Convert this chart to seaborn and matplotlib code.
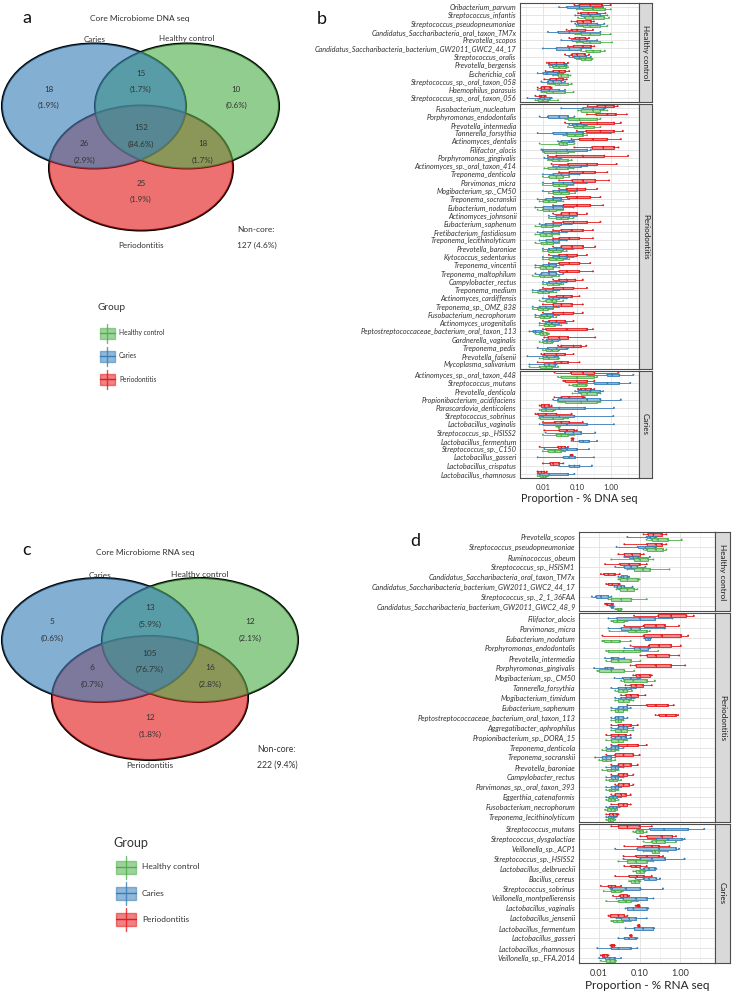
import numpy as np
import pandas as pd
import matplotlib
matplotlib.use("Agg")
import matplotlib.pyplot as plt
import seaborn as sns
from matplotlib.patches import Ellipse, Rectangle
from matplotlib.ticker import NullFormatter

# ---------------- data ----------------
GROUPS = ["Healthy control", "Caries", "Periodontitis"]
HUE_ORDER = ["Periodontitis", "Caries", "Healthy control"]   # top -> bottom inside a row
PAL = {"Healthy control": "#4DAF4A", "Caries": "#377EB8", "Periodontitis": "#E41A1C"}

# Venn counts: C only, C&H, H only, C&P, all, H&P, P only
dna_venn_counts = [18, 15, 10, 26, 152, 18, 25]
dna_venn_pct = ["1.9", "1.7", "0.6", "2.9", "84.6", "1.7", "1.9"]
dna_noncore = "127 (4.6%)"
rna_venn_counts = [5, 13, 12, 6, 105, 16, 12]
rna_venn_pct = ["0.6", "5.9", "2.1", "0.7", "76.7", "2.8", "1.8"]
rna_noncore = "222 (9.4%)"

# DNA taxa by facet (top -> bottom)
dna_taxa_hc = ["Oribacterium_parvum", "Streptococcus_infantis", "Streptococcus_pseudopneumoniae",
               "Candidatus_Saccharibacteria_oral_taxon_TM7x", "Prevotella_scopos",
               "Candidatus_Saccharibacteria_bacterium_GW2011_GWC2_44_17", "Streptococcus_oralis",
               "Prevotella_bergensis", "Escherichia_coli", "Streptococcus_sp._oral_taxon_058",
               "Haemophilus_parasuis", "Streptococcus_sp._oral_taxon_056"]
dna_taxa_per = ["Fusobacterium_nucleatum", "Porphyromonas_endodontalis", "Prevotella_intermedia",
                "Tannerella_forsythia", "Actinomyces_dentalis", "Filifactor_alocis",
                "Porphyromonas_gingivalis", "Actinomyces_sp._oral_taxon_414", "Treponema_denticola",
                "Parvimonas_micra", "Mogibacterium_sp._CM50", "Treponema_socranskii",
                "Eubacterium_nodatum", "Actinomyces_johnsonii", "Eubacterium_saphenum",
                "Fretibacterium_fastidiosum", "Treponema_lecithinolyticum", "Prevotella_baroniae",
                "Kytococcus_sedentarius", "Treponema_vincentii", "Treponema_maltophilum",
                "Campylobacter_rectus", "Treponema_medium", "Actinomyces_cardiffensis",
                "Treponema_sp._OMZ_838", "Fusobacterium_necrophorum", "Actinomyces_urogenitalis",
                "Peptostreptococcaceae_bacterium_oral_taxon_113", "Gardnerella_vaginalis",
                "Treponema_pedis", "Prevotella_falsenii", "Mycoplasma_salivarium"]
dna_taxa_car = ["Actinomyces_sp._oral_taxon_448", "Streptococcus_mutans", "Prevotella_denticola",
                "Propionibacterium_acidifaciens", "Parascardovia_denticolens", "Streptococcus_sobrinus",
                "Lactobacillus_vaginalis", "Streptococcus_sp._HSISS2", "Lactobacillus_fermentum",
                "Streptococcus_sp._C150", "Lactobacillus_gasseri", "Lactobacillus_crispatus",
                "Lactobacillus_rhamnosus"]

# five-number summaries (min, q1, median, q3, max), proportion %, same order as the taxa above
dna_per = [
    (0.085, 0.12, 0.25, 0.55, 1.0), (0.11, 0.13, 0.22, 0.4, 0.7), (0.07, 0.1, 0.15, 0.26, 0.32),
    (0.05, 0.07, 0.1, 0.18, 0.3), (0.06, 0.09, 0.12, 0.18, 0.23), (0.055, 0.08, 0.15, 0.26, 0.33),
    (0.045, 0.07, 0.1, 0.17, 0.23), (0.013, 0.015, 0.025, 0.042, 0.055), (0.012, 0.02, 0.03, 0.045, 0.06),
    (0.011, 0.016, 0.025, 0.04, 0.05), (0.007, 0.009, 0.011, 0.016, 0.018), (0.006, 0.008, 0.009, 0.011, 0.012),
    (0.21, 0.4, 0.7, 1.25, 1.6), (0.2, 0.36, 0.8, 1.4, 3.0), (0.045, 0.13, 0.4, 1.25, 2.0),
    (0.1, 0.19, 0.5, 1.25, 2.3), (0.07, 0.12, 0.3, 0.8, 2.0), (0.085, 0.28, 0.6, 1.25, 1.7),
    (0.014, 0.025, 0.15, 0.65, 3.3), (0.018, 0.055, 0.2, 0.4, 1.5), (0.03, 0.06, 0.15, 0.35, 0.8),
    (0.03, 0.07, 0.15, 0.35, 0.9), (0.03, 0.05, 0.1, 0.18, 0.4), (0.02, 0.05, 0.1, 0.25, 0.5),
    (0.02, 0.04, 0.1, 0.25, 0.6), (0.02, 0.035, 0.06, 0.1, 0.2), (0.02, 0.04, 0.08, 0.2, 0.5),
    (0.02, 0.035, 0.07, 0.15, 0.3), (0.02, 0.03, 0.06, 0.12, 0.3), (0.02, 0.035, 0.07, 0.15, 0.35),
    (0.015, 0.03, 0.05, 0.1, 0.2), (0.015, 0.03, 0.06, 0.12, 0.25), (0.015, 0.03, 0.05, 0.12, 0.3),
    (0.02, 0.03, 0.05, 0.09, 0.15), (0.01, 0.02, 0.04, 0.08, 0.2), (0.015, 0.025, 0.04, 0.07, 0.12),
    (0.01, 0.02, 0.035, 0.07, 0.15), (0.01, 0.02, 0.04, 0.08, 0.15), (0.01, 0.015, 0.025, 0.045, 0.08),
    (0.01, 0.012, 0.05, 0.2, 0.3), (0.011, 0.014, 0.03, 0.055, 0.35), (0.028, 0.035, 0.08, 0.13, 0.19),
    (0.009, 0.011, 0.025, 0.045, 0.08), (0.007, 0.022, 0.035, 0.055, 0.12),
    (0.022, 0.068, 0.15, 0.33, 1.7), (0.04, 0.045, 0.1, 0.2, 0.33), (0.11, 0.13, 0.18, 0.26, 0.33),
    (0.022, 0.035, 0.06, 0.15, 0.17), (0.008, 0.009, 0.011, 0.015, 0.018), (0.006, 0.007, 0.012, 0.025, 0.07),
    (0.01, 0.022, 0.035, 0.06, 0.15), (0.011, 0.03, 0.05, 0.085, 0.1), (0.07, 0.072, 0.075, 0.078, 0.08),
    (0.008, 0.028, 0.035, 0.045, 0.055), (0.065, 0.068, 0.07, 0.072, 0.075), (0.01, 0.016, 0.02, 0.03, 0.04),
    (0.007, 0.007, 0.009, 0.011, 0.013)]
dna_car = [
    (0.03, 0.05, 0.12, 0.3, 0.6), (0.09, 0.13, 0.25, 0.5, 0.8), (0.09, 0.11, 0.2, 0.4, 0.65),
    (0.014, 0.028, 0.06, 0.13, 0.5), (0.035, 0.07, 0.12, 0.2, 0.4), (0.01, 0.025, 0.06, 0.13, 0.26),
    (0.06, 0.085, 0.12, 0.19, 0.26), (0.015, 0.018, 0.025, 0.044, 0.05), (0.007, 0.01, 0.013, 0.028, 0.04),
    (0.009, 0.014, 0.02, 0.035, 0.045), (0.007, 0.009, 0.015, 0.03, 0.045), (0.0035, 0.008, 0.011, 0.016, 0.018),
    (0.035, 0.15, 0.3, 0.62, 0.7), (0.008, 0.014, 0.03, 0.055, 0.085), (0.06, 0.075, 0.1, 0.16, 0.2),
    (0.007, 0.02, 0.05, 0.15, 1.0), (0.028, 0.035, 0.06, 0.075, 0.085), (0.009, 0.01, 0.05, 0.2, 0.26),
    (0.011, 0.014, 0.02, 0.028, 0.035), (0.02, 0.03, 0.06, 0.13, 0.2), (0.01, 0.02, 0.035, 0.06, 0.12),
    (0.01, 0.02, 0.04, 0.08, 0.2), (0.01, 0.02, 0.03, 0.05, 0.1), (0.007, 0.012, 0.02, 0.035, 0.06),
    (0.006, 0.01, 0.02, 0.04, 0.08), (0.015, 0.025, 0.04, 0.06, 0.1), (0.008, 0.012, 0.02, 0.035, 0.07),
    (0.007, 0.01, 0.018, 0.03, 0.05), (0.008, 0.012, 0.02, 0.03, 0.05), (0.01, 0.015, 0.025, 0.04, 0.08),
    (0.01, 0.02, 0.03, 0.05, 0.08), (0.006, 0.01, 0.015, 0.025, 0.04), (0.006, 0.009, 0.015, 0.025, 0.04),
    (0.01, 0.015, 0.025, 0.035, 0.05), (0.005, 0.008, 0.012, 0.02, 0.03), (0.01, 0.015, 0.02, 0.03, 0.05),
    (0.005, 0.008, 0.012, 0.02, 0.03), (0.006, 0.009, 0.013, 0.02, 0.03), (0.008, 0.012, 0.018, 0.03, 0.05),
    (0.004, 0.005, 0.006, 0.009, 0.01), (0.01, 0.013, 0.018, 0.028, 0.032), (0.007, 0.014, 0.025, 0.05, 0.055),
    (0.0035, 0.01, 0.013, 0.022, 0.028), (0.004, 0.011, 0.015, 0.022, 0.025),
    (0.2, 0.8, 1.1, 1.8, 4.7), (0.11, 0.33, 0.8, 1.8, 3.8), (0.09, 0.11, 0.25, 0.5, 0.6),
    (0.02, 0.028, 0.2, 0.5, 2.0), (0.01, 0.012, 0.03, 0.17, 1.25), (0.008, 0.01, 0.03, 0.085, 1.2),
    (0.008, 0.01, 0.05, 0.2, 1.25), (0.012, 0.045, 0.08, 0.13, 0.35), (0.07, 0.12, 0.15, 0.23, 0.4),
    (0.011, 0.035, 0.05, 0.1, 0.23), (0.007, 0.04, 0.06, 0.09, 0.32), (0.03, 0.06, 0.085, 0.12, 0.28),
    (0.007, 0.008, 0.015, 0.055, 0.085)]
dna_hc = [
    (0.1, 0.15, 0.3, 0.7, 1.0), (0.11, 0.17, 0.3, 0.65, 0.9), (0.1, 0.15, 0.25, 0.5, 0.8),
    (0.09, 0.13, 0.25, 0.5, 1.0), (0.1, 0.15, 0.25, 0.5, 1.1), (0.13, 0.19, 0.3, 0.5, 0.67),
    (0.1, 0.13, 0.17, 0.27, 0.29), (0.016, 0.02, 0.03, 0.049, 0.055), (0.02, 0.028, 0.035, 0.055, 0.065),
    (0.014, 0.022, 0.03, 0.055, 0.07), (0.009, 0.012, 0.02, 0.045, 0.08), (0.006, 0.007, 0.01, 0.014, 0.028),
    (0.11, 0.13, 0.3, 0.5, 0.8), (0.045, 0.055, 0.12, 0.4, 0.5), (0.055, 0.085, 0.15, 0.33, 0.5),
    (0.04, 0.05, 0.09, 0.15, 0.2), (0.008, 0.03, 0.04, 0.05, 0.085), (0.01, 0.011, 0.025, 0.055, 0.085),
    (0.014, 0.018, 0.03, 0.055, 0.07), (0.011, 0.014, 0.025, 0.055, 0.08), (0.01, 0.015, 0.025, 0.04, 0.06),
    (0.01, 0.02, 0.03, 0.05, 0.08), (0.015, 0.02, 0.035, 0.06, 0.09), (0.008, 0.01, 0.015, 0.025, 0.04),
    (0.007, 0.01, 0.015, 0.025, 0.04), (0.015, 0.025, 0.035, 0.055, 0.08), (0.006, 0.009, 0.012, 0.02, 0.03),
    (0.006, 0.008, 0.012, 0.018, 0.03), (0.006, 0.009, 0.013, 0.02, 0.03), (0.01, 0.014, 0.02, 0.035, 0.05),
    (0.01, 0.015, 0.025, 0.04, 0.06), (0.006, 0.008, 0.012, 0.02, 0.03), (0.005, 0.008, 0.011, 0.018, 0.03),
    (0.01, 0.013, 0.02, 0.03, 0.04), (0.005, 0.007, 0.01, 0.015, 0.025), (0.008, 0.012, 0.018, 0.025, 0.04),
    (0.005, 0.007, 0.01, 0.014, 0.02), (0.006, 0.008, 0.011, 0.016, 0.025), (0.008, 0.011, 0.015, 0.022, 0.035),
    (0.006, 0.008, 0.01, 0.013, 0.015), (0.008, 0.01, 0.013, 0.018, 0.02), (0.01, 0.012, 0.018, 0.028, 0.03),
    (0.008, 0.01, 0.015, 0.028, 0.03), (0.004, 0.008, 0.012, 0.018, 0.028),
    (0.028, 0.035, 0.1, 0.33, 0.4), (0.06, 0.075, 0.1, 0.19, 0.2), (0.075, 0.13, 0.2, 0.4, 0.5),
    (0.028, 0.045, 0.13, 0.4, 0.5), (0.008, 0.009, 0.012, 0.02, 0.022), (0.008, 0.008, 0.02, 0.04, 0.055),
    (0.025, 0.027, 0.028, 0.03, 0.032), (0.01, 0.025, 0.035, 0.055, 0.085), None,
    (0.01, 0.014, 0.022, 0.035, 0.045), None, None,
    (0.007, 0.008, 0.01, 0.012, 0.014)]

# RNA taxa by facet
rna_taxa_hc = ["Prevotella_scopos", "Streptococcus_pseudopneumoniae", "Ruminococcus_obeum",
               "Streptococcus_sp._HSISM1", "Candidatus_Saccharibacteria_oral_taxon_TM7x",
               "Candidatus_Saccharibacteria_bacterium_GW2011_GWC2_44_17", "Streptococcus_sp._2_1_36FAA",
               "Candidatus_Saccharibacteria_bacterium_GW2011_GWC2_48_9"]
rna_taxa_per = ["Filifactor_alocis", "Parvimonas_micra", "Eubacterium_nodatum",
                "Porphyromonas_endodontalis", "Prevotella_intermedia", "Porphyromonas_gingivalis",
                "Mogibacterium_sp._CM50", "Tannerella_forsythia", "Mogibacterium_timidum",
                "Eubacterium_saphenum", "Peptostreptococcaceae_bacterium_oral_taxon_113",
                "Aggregatibacter_aphrophilus", "Propionibacterium_sp._DORA_15", "Treponema_denticola",
                "Treponema_socranskii", "Prevotella_baroniae", "Campylobacter_rectus",
                "Parvimonas_sp._oral_taxon_393", "Eggerthia_catenaformis", "Fusobacterium_necrophorum",
                "Treponema_lecithinolyticum"]
rna_taxa_car = ["Streptococcus_mutans", "Streptococcus_dysgalactiae", "Veillonella_sp._ACP1",
                "Streptococcus_sp._HSISS2", "Lactobacillus_delbrueckii", "Bacillus_cereus",
                "Streptococcus_sobrinus", "Veillonella_montpellierensis", "Lactobacillus_vaginalis",
                "Lactobacillus_jensenii", "Lactobacillus_fermentum", "Lactobacillus_gasseri",
                "Lactobacillus_rhamnosus", "Veillonella_sp._FFA.2014"]

rna_per = [
    (0.126, 0.16, 0.22, 0.35, 0.46), (0.042, 0.15, 0.25, 0.35, 0.46), (0.03, 0.042, 0.065, 0.105, 0.126),
    (0.014, 0.032, 0.055, 0.1, 0.15), (0.011, 0.013, 0.017, 0.024, 0.032), (0.015, 0.017, 0.021, 0.03, 0.032),
    None, (0.014, 0.015, 0.016, 0.02, 0.022),
    (0.073, 0.29, 0.6, 1.45, 2.2), (0.042, 0.126, 0.25, 0.42, 0.95), (0.012, 0.126, 0.35, 1.05, 1.6),
    (0.06, 0.17, 0.3, 0.6, 1.05), (0.105, 0.15, 0.25, 0.55, 0.95), (0.06, 0.08, 0.25, 0.6, 1.35),
    (0.07, 0.08, 0.1, 0.18, 0.2), (0.045, 0.06, 0.08, 0.12, 0.2), (0.035, 0.045, 0.06, 0.09, 0.14),
    (0.05, 0.15, 0.25, 0.5, 0.7), (0.25, 0.3, 0.45, 0.8, 0.9), (0.02, 0.03, 0.04, 0.06, 0.09),
    (0.015, 0.02, 0.03, 0.045, 0.06), (0.02, 0.03, 0.05, 0.09, 0.15), (0.015, 0.025, 0.04, 0.07, 0.1),
    (0.02, 0.03, 0.04, 0.06, 0.09), (0.02, 0.03, 0.04, 0.05, 0.07), (0.025, 0.03, 0.04, 0.055, 0.07),
    (0.02, 0.025, 0.035, 0.045, 0.06), (0.02, 0.03, 0.04, 0.05, 0.06), (0.015, 0.018, 0.022, 0.027, 0.03),
    (0.02, 0.03, 0.05, 0.1, 0.2), (0.105, 0.15, 0.35, 0.65, 0.8), (0.042, 0.126, 0.2, 0.3, 0.55),
    (0.04, 0.08, 0.15, 0.3, 0.38), (0.042, 0.06, 0.08, 0.105, 0.15), (0.025, 0.055, 0.085, 0.126, 0.2),
    (0.011, 0.017, 0.02, 0.025, 0.035), (0.022, 0.032, 0.04, 0.05, 0.055), (0.08, 0.085, 0.09, 0.095, 0.1),
    (0.017, 0.019, 0.03, 0.042, 0.05), (0.09, 0.093, 0.095, 0.098, 0.1), (0.058, 0.06, 0.06, 0.062, 0.064),
    (0.019, 0.02, 0.021, 0.023, 0.024), (0.011, 0.012, 0.013, 0.016, 0.017)]
rna_car = [
    (0.05, 0.15, 0.18, 0.24, 0.26), (0.027, 0.09, 0.14, 0.24, 0.26), (0.042, 0.056, 0.07, 0.09, 0.18),
    (0.025, 0.042, 0.06, 0.088, 0.14), (0.03, 0.035, 0.04, 0.05, 0.055), (0.024, 0.028, 0.035, 0.042, 0.067),
    (0.0066, 0.0082, 0.011, 0.017, 0.02), (0.019, 0.02, 0.021, 0.022, 0.023),
    (0.017, 0.027, 0.1, 0.24, 0.65), (0.017, 0.035, 0.06, 0.1, 0.42), (0.13, 0.14, 0.16, 0.18, 0.19),
    (0.042, 0.074, 0.1, 0.165, 0.18), (0.014, 0.02, 0.022, 0.03, 0.042), (0.0075, 0.014, 0.016, 0.02, 0.022),
    (0.024, 0.038, 0.06, 0.09, 0.105), (0.02, 0.03, 0.045, 0.06, 0.08), (0.025, 0.035, 0.045, 0.06, 0.075),
    (0.02, 0.03, 0.04, 0.05, 0.06), (0.02, 0.025, 0.03, 0.04, 0.05), (0.02, 0.03, 0.04, 0.05, 0.07),
    (0.02, 0.025, 0.035, 0.045, 0.06), (0.015, 0.02, 0.025, 0.03, 0.04), (0.008, 0.012, 0.015, 0.02, 0.025),
    (0.015, 0.02, 0.025, 0.03, 0.04), (0.015, 0.02, 0.025, 0.03, 0.04), (0.015, 0.02, 0.025, 0.03, 0.035),
    (0.015, 0.018, 0.022, 0.028, 0.035), (0.015, 0.018, 0.022, 0.027, 0.032), (0.015, 0.017, 0.02, 0.023, 0.026),
    (0.087, 0.18, 0.4, 1.6, 4.0), (0.088, 0.26, 0.5, 1.1, 1.3), (0.025, 0.088, 0.3, 0.8, 0.95),
    (0.04, 0.105, 0.2, 0.42, 1.3), (0.105, 0.126, 0.17, 0.24, 0.26), (0.08, 0.126, 0.17, 0.26, 0.32),
    (0.019, 0.021, 0.045, 0.105, 0.38), (0.027, 0.038, 0.08, 0.15, 0.22), (0.045, 0.05, 0.07, 0.15, 0.165),
    (0.027, 0.035, 0.055, 0.08, 0.15), (0.045, 0.074, 0.12, 0.22, 0.23), (0.03, 0.042, 0.055, 0.08, 0.088),
    (0.009, 0.02, 0.03, 0.06, 0.088), (0.01, 0.014, 0.018, 0.024, 0.035)]
rna_hc = [
    (0.15, 0.2, 0.28, 0.5, 1.1), (0.126, 0.15, 0.25, 0.38, 0.46), (0.02, 0.074, 0.1, 0.165, 0.22),
    (0.05, 0.074, 0.12, 0.18, 0.55), (0.03, 0.032, 0.05, 0.09, 0.1), (0.027, 0.032, 0.05, 0.074, 0.088),
    (0.017, 0.02, 0.035, 0.063, 0.15), (0.025, 0.027, 0.03, 0.035, 0.036),
    (0.02, 0.022, 0.028, 0.042, 0.05), (0.018, 0.052, 0.08, 0.15, 0.18), (0.012, 0.013, 0.02, 0.032, 0.06),
    (0.015, 0.017, 0.04, 0.105, 0.29), (0.015, 0.02, 0.03, 0.06, 0.105), (0.009, 0.01, 0.02, 0.042, 0.074),
    (0.035, 0.042, 0.07, 0.15, 0.24), (0.025, 0.03, 0.04, 0.05, 0.065), (0.025, 0.03, 0.04, 0.055, 0.07),
    (0.02, 0.025, 0.03, 0.04, 0.05), (0.02, 0.025, 0.03, 0.035, 0.04), (0.02, 0.025, 0.035, 0.05, 0.07),
    (0.015, 0.02, 0.03, 0.04, 0.05), (0.012, 0.015, 0.02, 0.025, 0.03), (0.01, 0.012, 0.015, 0.02, 0.025),
    (0.012, 0.016, 0.02, 0.025, 0.03), (0.015, 0.018, 0.022, 0.028, 0.035), (0.015, 0.018, 0.02, 0.025, 0.03),
    (0.015, 0.017, 0.02, 0.024, 0.03), (0.014, 0.016, 0.02, 0.024, 0.028), (0.015, 0.017, 0.019, 0.022, 0.025),
    (0.07, 0.08, 0.1, 0.12, 0.15), (0.126, 0.2, 0.26, 0.42, 0.8), (0.126, 0.2, 0.24, 0.3, 0.5),
    (0.03, 0.05, 0.08, 0.15, 0.22), (0.07, 0.08, 0.1, 0.126, 0.14), (0.055, 0.06, 0.075, 0.095, 0.105),
    (0.013, 0.02, 0.024, 0.035, 0.038), (0.015, 0.03, 0.045, 0.063, 0.09), None,
    (0.02, 0.022, 0.028, 0.038, 0.06), None, None,
    None, (0.011, 0.015, 0.019, 0.024, 0.026)]

# ---------------- style ----------------
sns.set_theme(style="white")
plt.rcParams["font.family"] = ["Lato", "DejaVu Sans"]
TXT = "#333333"
W, H = 734, 999


def rect(x0, y0, x1, y1):
    return [x0 / W, 1 - y1 / H, (x1 - x0) / W, (y1 - y0) / H]


def to_long(taxa, per, car, hc):
    rows = []
    for g, boxes in (("Periodontitis", per), ("Caries", car), ("Healthy control", hc)):
        for t, b in zip(taxa, boxes):
            if b is None:
                continue
            for v in b:
                rows.append((t, g, v))
    return pd.DataFrame(rows, columns=["taxon", "group", "value"])


def box_panel(fig, facets, df, x0, x1, y0, y1, strip_w, xlim, lab_fs, tick_fs, xlabel, xlab_fs):
    gap = 2
    n_all = sum(len(t) for _, t in facets)
    row_h = (y1 - y0 - gap * (len(facets) - 1)) / n_all
    top = y0
    for i, (name, taxa) in enumerate(facets):
        bot = top + row_h * len(taxa)
        ax = fig.add_axes(rect(x0, top, x1, bot))
        d = df[df["taxon"].isin(taxa)]
        for g in HUE_ORDER:
            dg = d[d["group"] == g]
            if dg.empty:
                continue
            sns.boxplot(data=dg, x="value", y="taxon", hue="group", order=taxa,
                        hue_order=HUE_ORDER, palette=PAL, saturation=1, dodge=True,
                        width=0.8, gap=0, whis=(0, 100), showcaps=False, fliersize=0,
                        linecolor=PAL[g], linewidth=0.6, log_scale=True, legend=False, ax=ax)
        sns.stripplot(data=d, x="value", y="taxon", hue="group", order=taxa,
                      hue_order=HUE_ORDER, palette=PAL, dodge=True, jitter=False,
                      size=1.4, linewidth=0, legend=False, log_scale=True, ax=ax)
        for p in ax.patches:
            fc = p.get_facecolor()
            p.set_facecolor((fc[0], fc[1], fc[2], 0.5))
        ax.set_xlim(*xlim)
        ax.set_xticks([0.01, 0.1, 1])
        ax.set_xticklabels(["0.01", "0.10", "1.00"])
        ax.set_xticks([10 ** -2.5, 10 ** -1.5, 10 ** -0.5, 10 ** 0.5], minor=True)
        ax.xaxis.set_minor_formatter(NullFormatter())
        ax.grid(True, which="major", axis="both", color="#e0e0e0", lw=0.6)
        ax.grid(True, which="minor", axis="x", color="#ececec", lw=0.4)
        ax.set_axisbelow(True)
        ax.set_ylabel("")
        ax.set_xlabel("")
        ax.tick_params(axis="y", length=1.5, width=0.5, color=TXT, pad=1, labelsize=lab_fs,
                       labelcolor=TXT)
        ax.tick_params(axis="x", which="minor", length=0)
        for lab in ax.get_yticklabels():
            lab.set_fontstyle("italic")
        if i == len(facets) - 1:
            ax.tick_params(axis="x", which="major", length=2, width=0.5, color=TXT,
                           labelsize=tick_fs, labelcolor=TXT, pad=2)
            ax.set_xlabel(xlabel, fontsize=xlab_fs, color="#222222", labelpad=2)
        else:
            ax.tick_params(axis="x", which="major", length=0, labelbottom=False)
        for s in ax.spines.values():
            s.set_color("#4d4d4d")
            s.set_linewidth(0.8)
        sax = fig.add_axes(rect(x1, top, x1 + strip_w, bot))
        sax.set_facecolor("#d9d9d9")
        sax.set_xticks([])
        sax.set_yticks([])
        for s in sax.spines.values():
            s.set_color("#4d4d4d")
            s.set_linewidth(0.8)
        sax.text(0.5, 0.5, name, rotation=-90, ha="center", va="center",
                 fontsize=lab_fs + 0.6, color="#1a1a1a", transform=sax.transAxes)
        top = bot + gap


def venn(ax, centers, w, h, counts, pcts, spots, fs, line):
    fills = [("Periodontitis", centers[2]), ("Healthy control", centers[1]), ("Caries", centers[0])]
    for g, c in fills:
        ax.add_patch(Ellipse(c, w, h, fill=False, ec="black", lw=1.5, zorder=1))
    for g, c in fills:
        ax.add_patch(Ellipse(c, w, h, fc=PAL[g], ec="none", alpha=0.62, zorder=2))
    for (x, y), n, p in zip(spots, counts, pcts):
        ax.text(x, y, str(n), ha="center", va="center", fontsize=fs, color=TXT, zorder=3)
        ax.text(x, y + line, f"({p}%)", ha="center", va="center", fontsize=fs, color=TXT, zorder=3)


def legend_icon(ax, x, y, w, h, color, whisk):
    ax.plot([x, x], [y - h / 2 - whisk, y + h / 2 + whisk], color=color, lw=1.0, alpha=0.8)
    ax.add_patch(Rectangle((x - w / 2, y - h / 2), w, h, fc=color, ec=color, alpha=0.55, lw=1.0))
    ax.plot([x - w / 2, x + w / 2], [y, y], color=color, lw=1.0)


fig = plt.figure(figsize=(W / 100, H / 100), dpi=100)
bg = fig.add_axes([0, 0, 1, 1])
bg.set_xlim(0, W)
bg.set_ylim(H, 0)
bg.set_aspect("auto")
bg.axis("off")

# ---- panel a ----
bg.text(27, 18, "a", fontsize=13, color="#111111", ha="center", va="center")
bg.text(140, 18, "Core Microbiome DNA seq", fontsize=6, color=TXT, ha="center", va="center")
bg.text(95, 39, "Caries", fontsize=5.8, color=TXT, ha="center", va="center")
bg.text(187, 39, "Healthy control", fontsize=5.8, color=TXT, ha="center", va="center")
bg.text(141, 245, "Periodontitis", fontsize=5.8, color=TXT, ha="center", va="center")
venn(bg, [(94, 106), (187, 106), (141, 168)], 184, 125, dna_venn_counts, dna_venn_pct,
     [(49, 89), (141, 73), (236, 89), (84, 144), (141, 128), (203, 144), (141, 183)], 5.8, 16)
bg.text(237, 229, "Non-core:", fontsize=6, color=TXT, ha="left", va="center")
bg.text(237, 245, dna_noncore, fontsize=6, color=TXT, ha="left", va="center")
bg.text(97, 308, "Group", fontsize=7.2, color=TXT, ha="left", va="center")
for k, g in enumerate(GROUPS):
    yy = 333 + 23 * k
    legend_icon(bg, 107, yy, 15, 11, PAL[g], 4)
    bg.text(119, yy, g, fontsize=4.8, color=TXT, ha="left", va="center")

# ---- panel c ----
bg.text(27, 550, "c", fontsize=13, color="#111111", ha="center", va="center")
bg.text(145, 553, "Core Microbiome RNA seq", fontsize=6, color=TXT, ha="center", va="center")
bg.text(100, 575, "Caries", fontsize=6, color=TXT, ha="center", va="center")
bg.text(200, 575, "Healthy control", fontsize=6, color=TXT, ha="center", va="center")
bg.text(150, 766, "Periodontitis", fontsize=6, color=TXT, ha="center", va="center")
venn(bg, [(100, 640), (200, 640), (150, 698)], 196, 124, rna_venn_counts, rna_venn_pct,
     [(52, 622), (150, 608), (250, 622), (92, 668), (150, 653), (210, 668), (150, 718)], 6, 16)
bg.text(277, 750, "Non-core:", fontsize=6.2, color=TXT, ha="center", va="center")
bg.text(277, 765, rna_noncore, fontsize=6.2, color=TXT, ha="center", va="center")
bg.text(113, 843, "Group", fontsize=9, color=TXT, ha="left", va="center")
for k, g in enumerate(GROUPS):
    yy = 867 + 26 * k
    legend_icon(bg, 126, yy, 20, 13, PAL[g], 5)
    bg.text(142, yy, g, fontsize=6, color=TXT, ha="left", va="center")

# ---- panel b ----
bg.text(322, 19, "b", fontsize=13, color="#111111", ha="center", va="center")
dna_taxa = dna_taxa_hc + dna_taxa_per + dna_taxa_car
dna_df = to_long(dna_taxa, dna_per, dna_car, dna_hc)
box_panel(fig, [("Healthy control", dna_taxa_hc), ("Periodontitis", dna_taxa_per), ("Caries", dna_taxa_car)],
          dna_df, 520, 639, 3, 478, 13, (0.0021, 6.9), 5.2, 5.5, "Proportion - % DNA seq", 7.8)

# ---- panel d ----
bg.text(415, 541, "d", fontsize=13, color="#111111", ha="center", va="center")
rna_taxa = rna_taxa_hc + rna_taxa_per + rna_taxa_car
rna_df = to_long(rna_taxa, rna_per, rna_car, rna_hc)
box_panel(fig, [("Healthy control", rna_taxa_hc), ("Periodontitis", rna_taxa_per), ("Caries", rna_taxa_car)],
          rna_df, 579, 715, 532, 963, 15, (0.0043, 7.4), 5.3, 6.5, "Proportion - % RNA seq", 8.5)

fig.savefig("out.png", dpi=100)
